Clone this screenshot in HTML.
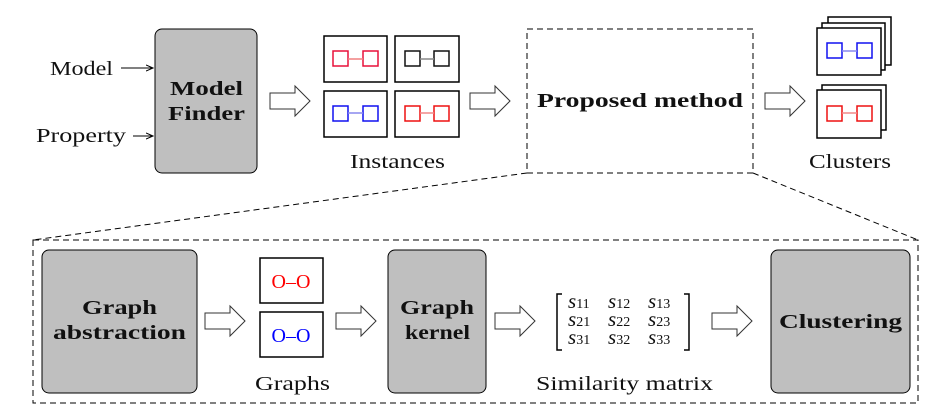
<!DOCTYPE html>
<html><head><style>body{margin:0;background:#fff}svg{display:block}text{font-family:"Liberation Serif",serif;fill:#111}</style></head>
<body>
<svg width="935" height="420" viewBox="0 0 935 420" xmlns="http://www.w3.org/2000/svg">
<defs>
<marker id="ah" markerWidth="8" markerHeight="8" refX="7" refY="4" orient="auto"><path d="M0,1 L7,4 L0,7" fill="none" stroke="#000" stroke-width="1"/></marker>
<g id="barrow"><path d="M0,-8 H25 V-15 L40,0 L25,15 V8 H0 Z" fill="#fff" stroke="#333" stroke-width="1"/></g>
</defs>
<g font-size="20" lengthAdjust="spacingAndGlyphs">
<text x="50" y="75" textLength="63" lengthAdjust="spacingAndGlyphs">Model</text>
<text x="36" y="142" textLength="90" lengthAdjust="spacingAndGlyphs">Property</text>
</g>
<line x1="121" y1="68" x2="153" y2="68" stroke="#000" marker-end="url(#ah)"/>
<line x1="133" y1="136" x2="153" y2="136" stroke="#000" marker-end="url(#ah)"/>
<rect x="155" y="29" width="102" height="144" rx="7" fill="#bfbfbf" stroke="#000"/>
<text x="170" y="95" font-size="20" font-weight="bold" textLength="73" lengthAdjust="spacingAndGlyphs">Model</text>
<text x="168" y="120" font-size="20" font-weight="bold" textLength="77" lengthAdjust="spacingAndGlyphs">Finder</text>
<use href="#barrow" x="270" y="101"/>
<g fill="none" stroke-width="1.5">
<rect x="324" y="36" width="63" height="46" stroke="#000"/>
<rect x="395" y="36" width="64" height="46" stroke="#000"/>
<rect x="324" y="91" width="63" height="46" stroke="#000"/>
<rect x="395" y="91" width="64" height="46" stroke="#000"/>
<g stroke="#e8103a"><rect x="333" y="51" width="15" height="15"/><rect x="363" y="51" width="15" height="15"/><line x1="348" y1="59" x2="363" y2="59" stroke="#f08080"/></g>
<g stroke="#111"><rect x="405" y="51" width="15" height="15"/><rect x="434" y="51" width="15" height="15"/><line x1="420" y1="59" x2="434" y2="59" stroke="#888"/></g>
<g stroke="#1010f0"><rect x="333" y="106" width="15" height="15"/><rect x="363" y="106" width="15" height="15"/><line x1="348" y1="113" x2="363" y2="113" stroke="#8888ee"/></g>
<g stroke="#ee1010"><rect x="405" y="106" width="15" height="15"/><rect x="434" y="106" width="15" height="15"/><line x1="420" y1="113" x2="434" y2="113" stroke="#f08888"/></g>
</g>
<text x="350" y="168" font-size="20" textLength="95" lengthAdjust="spacingAndGlyphs">Instances</text>
<use href="#barrow" x="470" y="101"/>
<rect x="527" y="29" width="226" height="144" fill="none" stroke="#000" stroke-dasharray="6,4"/>
<text x="537" y="107" font-size="20" font-weight="bold" textLength="206" lengthAdjust="spacingAndGlyphs">Proposed method</text>
<use href="#barrow" x="765" y="101"/>
<g fill="#fff" stroke="#000" stroke-width="1.5">
<rect x="828" y="17" width="63" height="48"/>
<rect x="822" y="23" width="63" height="47"/>
<rect x="817" y="28" width="64" height="47"/>
<rect x="822" y="85" width="64" height="45"/>
<rect x="817" y="90" width="64" height="48"/>
</g>
<g fill="none" stroke-width="1.5">
<g stroke="#1010f0"><rect x="827" y="43" width="15" height="15"/><rect x="857" y="43" width="15" height="15"/><line x1="842" y1="51" x2="857" y2="51" stroke="#8888ee"/></g>
<g stroke="#ee1010"><rect x="827" y="106" width="15" height="15"/><rect x="857" y="106" width="15" height="15"/><line x1="842" y1="113" x2="857" y2="113" stroke="#f08888"/></g>
</g>
<text x="809" y="168" font-size="20" textLength="82" lengthAdjust="spacingAndGlyphs">Clusters</text>
<line x1="527" y1="173" x2="33" y2="240" stroke="#000" stroke-dasharray="6,4"/>
<line x1="753" y1="173" x2="918" y2="240" stroke="#000" stroke-dasharray="6,4"/>
<rect x="33" y="240" width="885" height="163" fill="none" stroke="#000" stroke-dasharray="6,4"/>
<rect x="42" y="250" width="155" height="143" rx="7" fill="#bfbfbf" stroke="#000"/>
<text x="82" y="314" font-size="20" font-weight="bold" textLength="75" lengthAdjust="spacingAndGlyphs">Graph</text>
<text x="53" y="339" font-size="20" font-weight="bold" textLength="133" lengthAdjust="spacingAndGlyphs">abstraction</text>
<use href="#barrow" x="205" y="321"/>
<rect x="260" y="258" width="63" height="45" fill="none" stroke="#000" stroke-width="1.5"/>
<rect x="260" y="312" width="63" height="45" fill="none" stroke="#000" stroke-width="1.5"/>
<text x="291" y="288" font-size="20" text-anchor="middle" style="fill:#f00">O–O</text>
<text x="291" y="342" font-size="20" text-anchor="middle" style="fill:#00f">O–O</text>
<text x="255" y="390" font-size="20" textLength="75" lengthAdjust="spacingAndGlyphs">Graphs</text>
<use href="#barrow" x="336" y="321"/>
<rect x="388" y="250" width="98" height="143" rx="7" fill="#bfbfbf" stroke="#000"/>
<text x="400" y="314" font-size="20" font-weight="bold" textLength="74" lengthAdjust="spacingAndGlyphs">Graph</text>
<text x="405" y="339" font-size="20" font-weight="bold" textLength="65" lengthAdjust="spacingAndGlyphs">kernel</text>
<use href="#barrow" x="495" y="321"/>
<path d="M562,294 H557 V350 H562 M684,294 H689 V350 H684" fill="none" stroke="#000" stroke-width="1.5"/>
<g font-size="21" font-style="italic">
<text x="568" y="308">s<tspan font-size="14" font-style="normal">11</tspan></text><text x="608" y="308">s<tspan font-size="14" font-style="normal">12</tspan></text><text x="648" y="308">s<tspan font-size="14" font-style="normal">13</tspan></text>
<text x="568" y="326">s<tspan font-size="14" font-style="normal">21</tspan></text><text x="608" y="326">s<tspan font-size="14" font-style="normal">22</tspan></text><text x="648" y="326">s<tspan font-size="14" font-style="normal">23</tspan></text>
<text x="568" y="344">s<tspan font-size="14" font-style="normal">31</tspan></text><text x="608" y="344">s<tspan font-size="14" font-style="normal">32</tspan></text><text x="648" y="344">s<tspan font-size="14" font-style="normal">33</tspan></text>
</g>
<text x="536" y="390" font-size="20" textLength="177" lengthAdjust="spacingAndGlyphs">Similarity matrix</text>
<use href="#barrow" x="712" y="321"/>
<rect x="771" y="250" width="139" height="143" rx="7" fill="#bfbfbf" stroke="#000"/>
<text x="779" y="328" font-size="20" font-weight="bold" textLength="123" lengthAdjust="spacingAndGlyphs">Clustering</text>
</svg>
</body></html>
